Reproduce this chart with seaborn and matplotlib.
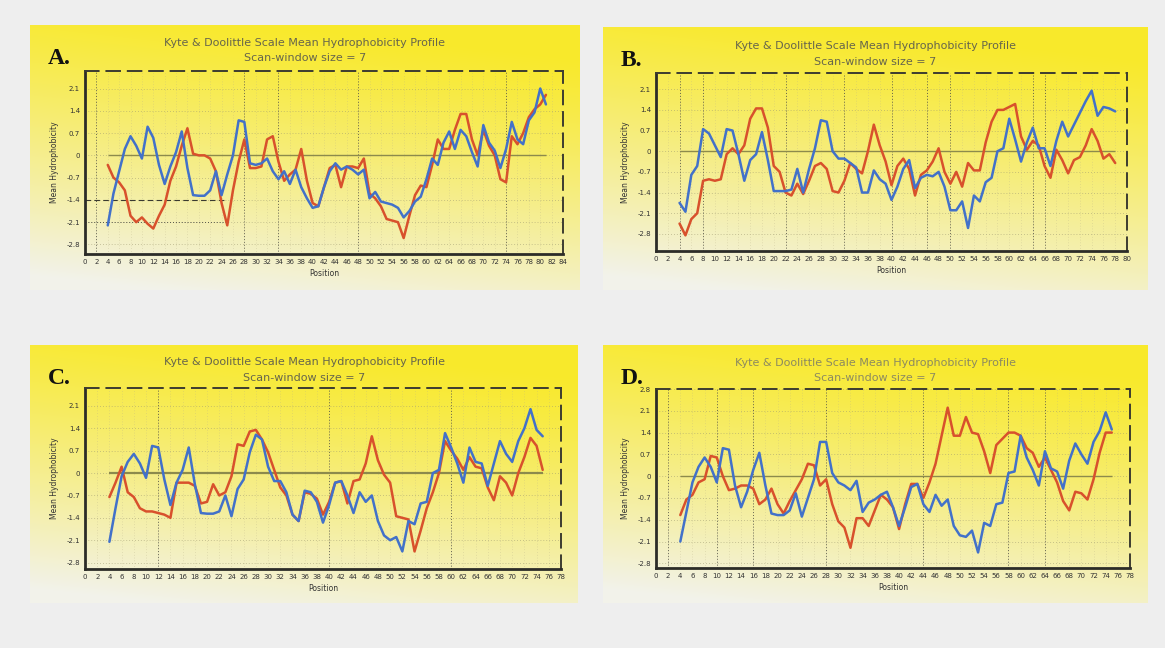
import numpy as np
import pandas as pd
import matplotlib
matplotlib.use("Agg")
import matplotlib.pyplot as plt
import seaborn as sns

sns.set_style("white")
plt.rcParams["font.family"] = ["DejaVu Sans"]

# ---------------------------------------------------------------- text
TITLE_1 = "Kyte & Doolittle Scale Mean Hydrophobicity Profile"
TITLE_2 = "Scan-window size = 7"
Y_LABEL = "Mean Hydrophobicity"
X_LABEL = "Position"
PANEL_LABELS = ["A.", "B.", "C.", "D."]

Y_TICKS = [-2.8, -2.1, -1.4, -0.7, 0, 0.7, 1.4, 2.1]
Y_TICKS_D = [-2.8, -2.1, -1.4, -0.7, 0, 0.7, 1.4, 2.1, 2.8]

# ---------------------------------------------------------------- data
# Panel A: positions 4..81, axis 0..84
A_positions = list(range(4, 82))
A_blue = [-2.2, -1.2, -0.5, 0.2, 0.6, 0.3, -0.1, 0.9, 0.55, -0.3,
          -0.9, -0.35, 0.1, 0.75, -0.4, -1.25, -1.27, -1.27, -1.1, -0.5,
          -1.25, -0.6, 0.0, 1.1, 1.05, -0.25, -0.3, -0.25, -0.1, -0.5,
          -0.75, -0.5, -0.9, -0.45, -1.0, -1.35, -1.65, -1.6, -1.0, -0.5,
          -0.25, -0.45, -0.35, -0.45, -0.6, -0.45, -1.35, -1.15, -1.45, -1.5,
          -1.55, -1.65, -1.95, -1.75, -1.45, -1.3, -0.75, -0.1, -0.3, 0.4,
          0.75, 0.2, 0.8, 0.6, 0.1, -0.35, 0.95, 0.4, 0.15, -0.4,
          0.2, 1.05, 0.5, 0.35, 1.1, 1.35, 2.1, 1.6]
A_red = [-0.3, -0.7, -0.85, -1.1, -1.9, -2.1, -1.95, -2.15, -2.3, -1.9,
         -1.55, -0.8, -0.35, 0.3, 0.85, 0.05, 0.0, 0.0, -0.1, -0.5,
         -1.5, -2.2, -1.1, -0.2, 0.5, -0.4, -0.4, -0.35, 0.5, 0.6,
         -0.2, -0.8, -0.6, -0.45, 0.2, -0.8, -1.5, -1.6, -1.0, -0.4,
         -0.3, -1.0, -0.35, -0.35, -0.4, -0.1, -1.2, -1.35, -1.6, -2.0,
         -2.05, -2.1, -2.6, -1.9, -1.25, -0.95, -1.0, -0.3, 0.5, 0.2,
         0.2, 0.8, 1.3, 1.3, 0.5, 0.0, 0.8, 0.3, 0.0, -0.75,
         -0.85, 0.6, 0.35, 0.7, 1.2, 1.45, 1.6, 1.9]

# Panel B: positions 4..78, axis 0..80
B_positions = list(range(4, 79))
B_blue = [-1.75, -2.05, -0.8, -0.5, 0.75, 0.6, 0.2, -0.2, 0.75, 0.7,
          -0.1, -1.0, -0.3, -0.1, 0.65, -0.3, -1.35, -1.35, -1.35, -1.3,
          -0.6, -1.4, -0.6, 0.1, 1.05, 1.0, 0.0, -0.25, -0.25, -0.4,
          -0.55, -1.4, -1.4, -0.65, -0.95, -1.1, -1.65, -1.2, -0.6, -0.3,
          -1.25, -0.9, -0.8, -0.85, -0.7, -1.2, -2.0, -2.0, -1.7, -2.6,
          -1.5, -1.7, -1.05, -0.9, 0.0, 0.1, 1.1, 0.4, -0.35, 0.3,
          0.8, 0.1, 0.1, -0.5, 0.35, 1.0, 0.5, 0.9, 1.3, 1.7,
          2.05, 1.2, 1.5, 1.45, 1.35]
B_red = [-2.45, -2.85, -2.3, -2.1, -1.0, -0.95, -1.0, -0.95, -0.1, 0.1,
         -0.1, 0.2, 1.1, 1.45, 1.45, 0.8, -0.5, -0.7, -1.4, -1.5,
         -1.1, -1.45, -1.0, -0.5, -0.4, -0.6, -1.35, -1.4, -1.0, -0.4,
         -0.6, -0.75, 0.0, 0.9, 0.2, -0.35, -1.15, -0.5, -0.25, -0.6,
         -1.5, -0.8, -0.65, -0.35, 0.1, -0.7, -1.1, -0.7, -1.2, -0.4,
         -0.65, -0.65, 0.3, 1.0, 1.4, 1.4, 1.5, 1.6, 0.5, 0.05,
         0.35, 0.2, -0.5, -0.9, 0.05, -0.3, -0.75, -0.3, -0.2, 0.2,
         0.75, 0.35, -0.25, -0.1, -0.4]

# Panel C: positions 4..75, axis 0..78
C_positions = list(range(4, 76))
C_blue = [-2.15, -1.1, -0.1, 0.35, 0.6, 0.3, -0.15, 0.85, 0.8, -0.2,
          -1.0, -0.3, 0.1, 0.8, -0.35, -1.25, -1.27, -1.27, -1.2, -0.7,
          -1.35, -0.5, -0.2, 0.65, 1.2, 1.05, 0.2, -0.25, -0.25, -0.6,
          -1.3, -1.5, -0.55, -0.6, -0.9, -1.55, -1.0, -0.3, -0.25, -0.7,
          -1.25, -0.6, -0.9, -0.7, -1.5, -1.95, -2.1, -2.0, -2.45, -1.5,
          -1.6, -0.95, -0.9, 0.0, 0.1, 1.25, 0.8, 0.3, -0.3, 0.8,
          0.35, 0.3, -0.4, 0.3, 1.0, 0.6, 0.35, 1.0, 1.4, 2.0,
          1.35, 1.15]
C_red = [-0.75, -0.3, 0.2, -0.6, -0.75, -1.1, -1.2, -1.2, -1.25, -1.3,
         -1.4, -0.3, -0.3, -0.3, -0.4, -0.95, -0.9, -0.35, -0.7, -0.6,
         -0.1, 0.9, 0.85, 1.3, 1.35, 1.05, 0.65, 0.1, -0.45, -0.7,
         -1.3, -1.5, -0.6, -0.65, -0.8, -1.3, -0.9, -0.3, -0.25, -0.95,
         -0.25, -0.2, 0.3, 1.15, 0.4, -0.05, -0.3, -1.35, -1.4, -1.45,
         -2.45, -1.8, -1.1, -0.6, 0.0, 1.0, 0.7, 0.45, 0.1, 0.5,
         0.2, 0.15, -0.45, -0.85, -0.1, -0.3, -0.7, 0.0, 0.5, 1.1,
         0.85, 0.1]

# Panel D: positions 4..75, axis 0..78
D_positions = list(range(4, 76))
D_blue = [-2.1, -1.15, -0.2, 0.3, 0.6, 0.3, -0.2, 0.9, 0.85, -0.3,
          -1.0, -0.5, 0.2, 0.75, -0.3, -1.2, -1.25, -1.25, -1.1, -0.55,
          -1.3, -0.7, -0.1, 1.1, 1.1, 0.1, -0.2, -0.3, -0.45, -0.15,
          -1.15, -0.85, -0.75, -0.6, -0.5, -1.0, -1.6, -1.0, -0.35, -0.25,
          -0.9, -1.15, -0.6, -0.95, -0.75, -1.6, -1.9, -1.95, -1.75, -2.45,
          -1.5, -1.6, -0.9, -0.85, 0.1, 0.15, 1.3, 0.6, 0.2, -0.3,
          0.8, 0.25, 0.15, -0.4, 0.5, 1.05, 0.7, 0.4, 1.1, 1.45,
          2.05, 1.5]
D_red = [-1.25, -0.75, -0.6, -0.2, -0.1, 0.65, 0.6, 0.0, -0.45, -0.4,
         -0.3, -0.3, -0.4, -0.9, -0.75, -0.4, -0.9, -1.2, -0.8, -0.45,
         -0.1, 0.4, 0.35, -0.3, -0.1, -0.9, -1.45, -1.65, -2.3, -1.35,
         -1.35, -1.6, -1.1, -0.6, -0.75, -1.0, -1.7, -0.9, -0.25, -0.25,
         -0.7, -0.2, 0.4, 1.3, 2.2, 1.3, 1.3, 1.9, 1.4, 1.35,
         0.8, 0.1, 1.0, 1.2, 1.4, 1.4, 1.3, 0.9, 0.75, 0.3,
         0.6, 0.2, -0.2, -0.8, -1.1, -0.5, -0.55, -0.75, -0.1, 0.75,
         1.4, 1.4]

# ---------------------------------------------------------------- style
W, H = 1165, 648
RED = "#d8512c"
BLUE = "#4271c9"
ZERO_COLOR = "#8c8a4c"
SPINE_COLOR = "#2c2c28"

panels = [
    dict(label="A.", pos=A_positions, red=A_red, blue=A_blue, xmax=84,
         yticks=Y_TICKS, ylim=(-3.1, 2.65),
         box=(30, 25, 580, 290), axes=(85, 71, 563, 254),
         marks=[2, 28, 34, 48, 74], zero_lw=1.0, title_y=(43, 58),
         title_color="#66654c"),
    dict(label="B.", pos=B_positions, red=B_red, blue=B_blue, xmax=80,
         yticks=Y_TICKS, ylim=(-3.38, 2.65),
         box=(603, 27, 1148, 290), axes=(656, 73, 1127, 251),
         marks=[4, 8, 22, 32, 40, 46, 50, 64, 66], zero_lw=1.0, title_y=(46, 62),
         title_color="#66654c"),
    dict(label="C.", pos=C_positions, red=C_red, blue=C_blue, xmax=78,
         yticks=Y_TICKS, ylim=(-3.0, 2.66),
         box=(30, 345, 578, 603), axes=(85, 388, 561, 569),
         marks=[12, 40, 60], zero_lw=1.6, title_y=(362, 378),
         title_color="#66654c"),
    dict(label="D.", pos=D_positions, red=D_red, blue=D_blue, xmax=78,
         yticks=Y_TICKS_D, ylim=(-2.95, 2.8),
         box=(603, 345, 1148, 603), axes=(656, 389, 1130, 568),
         marks=[2, 10, 16, 28, 44, 58, 64], zero_lw=1.0, title_y=(363, 378),
         title_color="#8c8a60"),
]


def rect(x0, y0, x1, y1):
    return [x0 / W, 1 - y1 / H, (x1 - x0) / W, (y1 - y0) / H]


def yellow_fill(nx=200, ny=200):
    yy, xx = np.mgrid[0:1:ny * 1j, 0:1:nx * 1j]
    t = np.clip(0.95 * yy + 0.22 * (1 - xx) - 0.12, 0, 1) ** 1.15
    top = np.array([0.975, 0.915, 0.17])
    bottom = np.array([0.95, 0.95, 0.92])
    return top[None, None, :] * (1 - t[..., None]) + bottom[None, None, :] * t[..., None]


fig = plt.figure(figsize=(W / 100, H / 100), dpi=100)
fig.patch.set_facecolor("#eeeeee")

for p in panels:
    # yellow panel background
    bg = fig.add_axes(rect(*p["box"]), zorder=0)
    bg.imshow(yellow_fill(), aspect="auto", extent=[0, 1, 0, 1], interpolation="bilinear")
    bg.axis("off")

    ax = fig.add_axes(rect(*p["axes"]), zorder=1)
    ax.patch.set_alpha(0)

    xmax = p["xmax"]
    ax.set_xlim(0, xmax)
    ax.set_ylim(*p["ylim"])

    # dotted grid
    for yv in p["yticks"]:
        ax.axhline(yv, color="#9c9870", lw=0.6, ls=(0, (1, 2.5)), alpha=0.7, zorder=1)
    for xv in range(0, xmax + 1, 2):
        ax.axvline(xv, color="#b8b088", lw=0.5, ls=(0, (1, 3)), alpha=0.6, zorder=1)
    for xv in p["marks"]:
        ax.axvline(xv, color="#4a4a40", lw=0.7, ls=(0, (1, 2)), alpha=0.8, zorder=1)

    if p["label"] == "A.":
        ax.hlines(-1.4, 0, 25, color="#3a3a30", lw=0.8, ls=(0, (5, 3)), zorder=1)
        ax.hlines(-2.1, 0, 25, color="#55554a", lw=0.7, ls=(0, (1, 2)), zorder=1)

    # zero reference
    ax.hlines(0, p["pos"][0], p["pos"][-1], color=ZERO_COLOR, lw=p["zero_lw"], zorder=2)

    df = pd.DataFrame({"Position": p["pos"], "red": p["red"], "blue": p["blue"]})
    sns.lineplot(data=df, x="Position", y="red", ax=ax, color=RED, lw=1.8, zorder=3)
    sns.lineplot(data=df, x="Position", y="blue", ax=ax, color=BLUE, lw=1.8, zorder=4)

    ax.set_xticks(list(range(0, xmax + 1, 2)))
    ax.set_xticklabels([str(v) for v in range(0, xmax + 1, 2)], fontsize=5, color="#333333")
    ax.set_yticks(p["yticks"])
    ax.set_yticklabels([f"{v:g}" for v in p["yticks"]], fontsize=5, color="#333333")
    ax.tick_params(axis="both", length=0, pad=3.5)
    ax.set_xlabel(X_LABEL, fontsize=5.5, color="#333333", labelpad=3)
    ax.set_ylabel(Y_LABEL, fontsize=5.5, color="#333333", labelpad=5)

    for side in ("left", "bottom"):
        ax.spines[side].set_color(SPINE_COLOR)
        ax.spines[side].set_linewidth(2.0)
    for side in ("top", "right"):
        ax.spines[side].set_color("#3c3c30")
        ax.spines[side].set_linewidth(1.4)
        ax.spines[side].set_linestyle((0, (7, 4)))

    # titles and panel letter
    bx0, by0, bx1, by1 = p["box"]
    cx = (bx0 + bx1) / 2
    fig.text(cx / W, 1 - p["title_y"][0] / H, TITLE_1, ha="center", va="center",
             fontsize=8, color=p["title_color"])
    fig.text(cx / W, 1 - p["title_y"][1] / H, TITLE_2, ha="center", va="center",
             fontsize=8, color=p["title_color"])
    fig.text((bx0 + 18) / W, 1 - (by0 + 33) / H, p["label"], ha="left", va="center",
             fontsize=17, fontweight="bold", family="Liberation Serif", color="#111111")

fig.savefig("out.png", dpi=100, facecolor=fig.get_facecolor())
